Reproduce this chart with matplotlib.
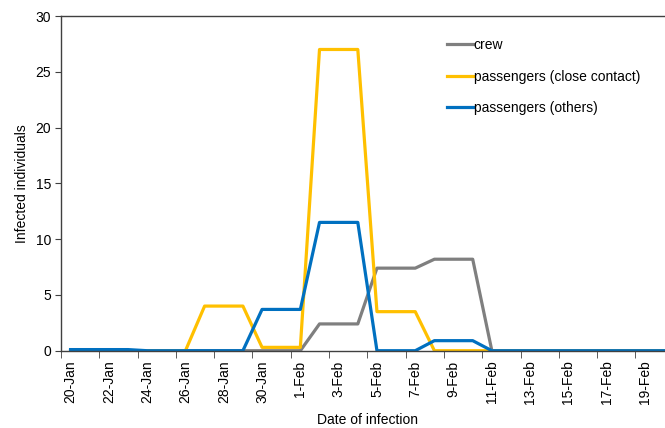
import numpy as np
import matplotlib
matplotlib.use("Agg")
import matplotlib.pyplot as plt

plt.rcParams['font.family'] = ['Liberation Sans', 'DejaVu Sans']

# one category per day, 20-Jan .. 20-Feb
dates = [f"{d}-Jan" for d in range(20, 32)] + [f"{d}-Feb" for d in range(1, 21)]

crew = [0, 0, 0, 0, 0, 0, 0, 0, 0, 0, 0, 0, 0,
        2.4, 2.4, 2.4, 7.4, 7.4, 7.4, 8.2, 8.2, 8.2,
        0, 0, 0, 0, 0, 0, 0, 0, 0, 0]
close_contact = [0, 0, 0, 0, 0, 0, 0, 4, 4, 4, 0.3, 0.3, 0.3,
                 27, 27, 27, 3.5, 3.5, 3.5, 0, 0, 0,
                 0, 0, 0, 0, 0, 0, 0, 0, 0, 0]
others = [0.1, 0.1, 0.1, 0.1, 0, 0, 0, 0, 0, 0, 3.7, 3.7, 3.7,
          11.5, 11.5, 11.5, 0, 0, 0, 0.9, 0.9, 0.9,
          0, 0, 0, 0, 0, 0, 0, 0, 0, 0]

x = np.arange(len(dates))

fig = plt.figure(figsize=(6.65, 4.28), dpi=100)
ax = fig.add_axes([0.0917, 0.1806, 0.9215, 0.782])

ax.plot(x, crew, color='#7f7f7f', lw=2.3, label='crew')
ax.plot(x, close_contact, color='#ffc000', lw=2.3, label='passengers (close contact)')
ax.plot(x, others, color='#0070c0', lw=2.3, label='passengers (others)')

ax.set_xlim(-0.5, len(dates) - 0.5)
ax.set_ylim(0, 30)
ax.set_yticks(range(0, 31, 5))
ax.tick_params(axis='y', labelsize=10, length=4, color='#404040', pad=3)

# labels every second day, tick marks on category boundaries
ax.set_xticks(x[::2])
ax.set_xticklabels(dates[::2], rotation=90, fontsize=10)
ax.set_xticks(np.arange(-0.5, len(dates), 2), minor=True)
ax.tick_params(axis='x', which='major', length=0, pad=7)
ax.tick_params(axis='x', which='minor', length=5, color='#404040')

for s in ax.spines.values():
    s.set_color('#404040')
    s.set_linewidth(1)

ax.set_ylabel('Infected individuals', fontsize=10, labelpad=5)
ax.set_xlabel('Date of infection', fontsize=10, labelpad=6)

ax.legend(loc='upper left', bbox_to_anchor=(0.653, 0.94), bbox_transform=fig.transFigure,
          frameon=False, fontsize=10, handlelength=1.9, handletextpad=0.05,
          labelspacing=1.25)

fig.savefig('out.png', dpi=100)
